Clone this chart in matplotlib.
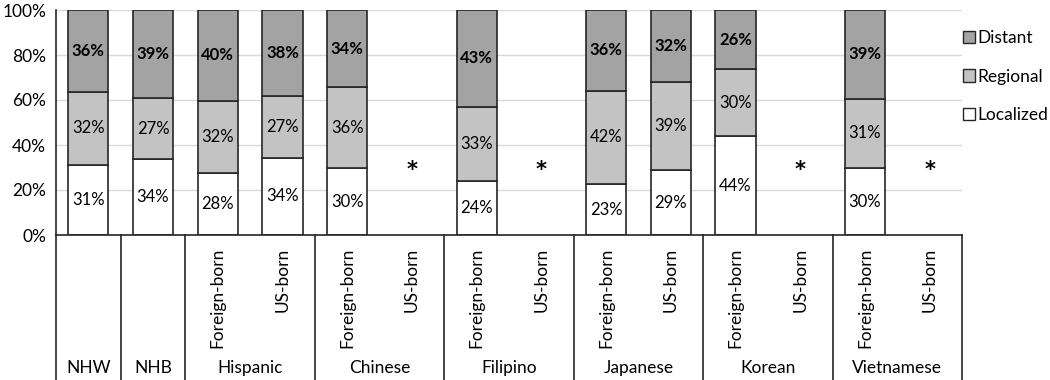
import matplotlib
matplotlib.use("Agg")
import matplotlib.pyplot as plt
import numpy as np

plt.rcParams['font.family'] = ['Lato', 'DejaVu Sans']

# one slot per bar position, left to right
groups = ['NHW', 'NHB', 'Hispanic', 'Chinese', 'Filipino', 'Japanese', 'Korean', 'Vietnamese']
group_sizes = [1, 1, 2, 2, 2, 2, 2, 2]
sub_labels = ['', '', 'Foreign-born', 'US-born', 'Foreign-born', 'US-born', 'Foreign-born', 'US-born',
              'Foreign-born', 'US-born', 'Foreign-born', 'US-born', 'Foreign-born', 'US-born']

# shares in percent, None = suppressed (*)
localized = [31.2, 33.6, 27.7, 34.3, 29.7, None, 24.2, None, 22.6, 28.8, 43.8, None, 29.7, None]
regional = [32.4, 27.4, 31.9, 27.3, 35.9, None, 32.7, None, 41.6, 39.3, 29.8, None, 30.9, None]
distant = [36.4, 39.0, 40.4, 38.4, 34.4, None, 43.1, None, 35.8, 31.9, 26.4, None, 39.4, None]

c_dist = '#a3a3a3'
c_reg = '#c3c3c3'
c_loc = '#ffffff'
edge = '#262626'
fs = 12.5

fig = plt.figure(figsize=(10.5, 3.8), dpi=100)
ax = fig.add_axes([56 / 1050, 145 / 380, 906 / 1050, 225 / 380])

n = len(sub_labels)
x = np.arange(n) + 0.5
w = 0.62

for i in range(n):
    if localized[i] is None:
        ax.text(x[i], 29, '*', ha='center', va='center', fontsize=15, fontweight='bold',
                family='DejaVu Sans', color='black')
        continue
    l, r, d = localized[i], regional[i], distant[i]
    ax.bar(x[i], l, w, color=c_loc, edgecolor=edge, linewidth=1.2, zorder=3)
    ax.bar(x[i], r, w, bottom=l, color=c_reg, edgecolor=edge, linewidth=1.2, zorder=3)
    ax.bar(x[i], d, w, bottom=l + r, color=c_dist, edgecolor=edge, linewidth=1.2, zorder=3)
    ax.text(x[i], l / 2, f'{l:.0f}%', ha='center', va='center', fontsize=12, zorder=4)
    ax.text(x[i], l + r / 2, f'{r:.0f}%', ha='center', va='center', fontsize=12, zorder=4)
    ax.text(x[i], l + r + d / 2, f'{d:.0f}%', ha='center', va='center', fontsize=12,
            fontweight='bold', zorder=4)

ax.set_xlim(0, n)
ax.set_ylim(0, 100)
ax.set_yticks(np.arange(0, 101, 20))
ax.set_yticklabels([f'{v}%' for v in range(0, 101, 20)], fontsize=fs)
ax.tick_params(axis='y', length=0, pad=7)
ax.set_xticks([])
ax.grid(axis='y', color='#d9d9d9', linewidth=1, zorder=0)
for s in ['top', 'right', 'bottom']:
    ax.spines[s].set_visible(False)
ax.spines['left'].set_color(edge)
ax.spines['left'].set_linewidth(1.2)

# category table under the axis
tr = ax.get_xaxis_transform()
ybot = -0.66
ax.plot([0, n], [0, 0], transform=tr, color=edge, lw=1.2, clip_on=False, zorder=5)
bounds = np.concatenate([[0], np.cumsum(group_sizes)])
for b in bounds:
    ax.plot([b, b], [0, ybot], transform=tr, color=edge, lw=1.2, clip_on=False)
for g, a, b in zip(groups, bounds[:-1], bounds[1:]):
    ax.text((a + b) / 2, -0.593, g, transform=tr, ha='center', va='center', fontsize=fs)
for i, s in enumerate(sub_labels):
    if s:
        ax.text(x[i], -0.056, s, transform=tr, rotation=90, ha='center', va='top', fontsize=fs)

handles = [plt.Rectangle((0, 0), 1, 1, facecolor=c, edgecolor=edge, lw=1)
           for c in [c_dist, c_reg, c_loc]]
fig.legend(handles, ['Distant', 'Regional', 'Localized'], loc='upper left',
           bbox_to_anchor=(963 / 1050, 350 / 380), frameon=False, fontsize=fs,
           handlelength=0.7, handleheight=0.7, handletextpad=0.15, labelspacing=1.3,
           borderpad=0, borderaxespad=0)

fig.savefig('out.png', dpi=100)
